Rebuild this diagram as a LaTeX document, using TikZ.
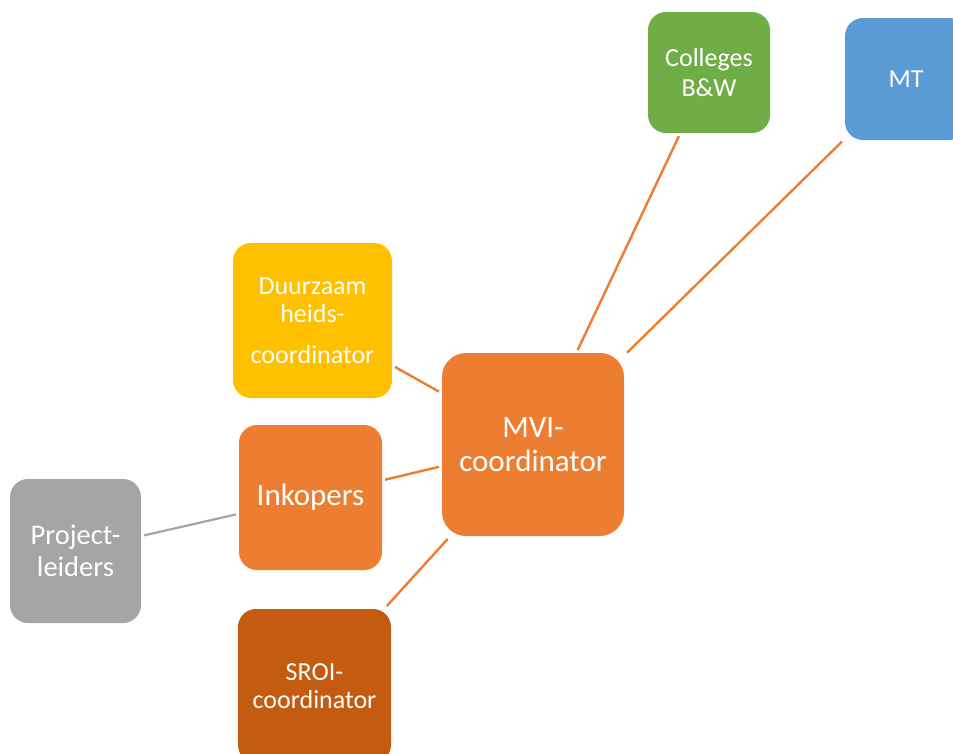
\documentclass[tikz,border=0pt]{standalone}
\usepackage{fontspec}
\setmainfont{Carlito}
\definecolor{cgreen}{HTML}{70AD47}
\definecolor{cblue}{HTML}{5B9BD5}
\definecolor{cgold}{HTML}{FFC000}
\definecolor{corange}{HTML}{ED7D31}
\definecolor{cgray}{HTML}{A5A5A5}
\definecolor{cdark}{HTML}{C55A11}
\begin{document}
\begin{tikzpicture}[x=1pt,y=-1pt,
  box/.style={rounded corners=18pt, text=white, align=center, inner sep=0pt, outer sep=3pt},
  conn/.style={draw=corange, line width=2.4pt},
  gconn/.style={draw=cgray, line width=2.2pt}]
\useasboundingbox (0,0) rectangle (953,753);
\node[box, fill=cgreen, minimum width=122pt, minimum height=121pt,
      font=\fontsize{26}{30}\selectfont] (cb) at (709,72.5) {Colleges\\B\&W};
\node[box, fill=cblue, minimum width=122pt, minimum height=122pt,
      font=\fontsize{26}{30}\selectfont] (mt) at (906,79) {MT};
\node[box, fill=cgold, minimum width=159pt, minimum height=155pt,
      font=\fontsize{26}{28.7}\selectfont] (dz) at (312.5,320.5) {Duurzaam\\heids-\\[11.6pt]coordinator};
\node[box, fill=corange, rounded corners=24pt, minimum width=182pt, minimum height=183pt,
      font=\fontsize{31}{34}\selectfont] (mvi) at (533,444.5) {MVI-\\coordinator};
\node[box, fill=corange, minimum width=143pt, minimum height=145pt,
      font=\fontsize{31}{34}\selectfont] (ink) at (310.5,497.5) {Inkopers};
\node[box, fill=cgray, minimum width=131pt, minimum height=144pt,
      font=\fontsize{28.5}{32}\selectfont] (pl) at (75.5,551) {Project-\\leiders};
\node[box, fill=cdark, minimum width=153pt, minimum height=154pt,
      font=\fontsize{26}{28}\selectfont] (sroi) at (314.5,686) {SROI-\\coordinator};
\draw[conn] (cb) -- (mvi);
\draw[conn] (mt) -- (mvi);
\draw[conn] (dz) -- (mvi);
\draw[conn] (ink) -- (mvi);
\draw[conn] (sroi) -- (mvi);
\draw[gconn] (pl) -- (ink);
\end{tikzpicture}
\end{document}
